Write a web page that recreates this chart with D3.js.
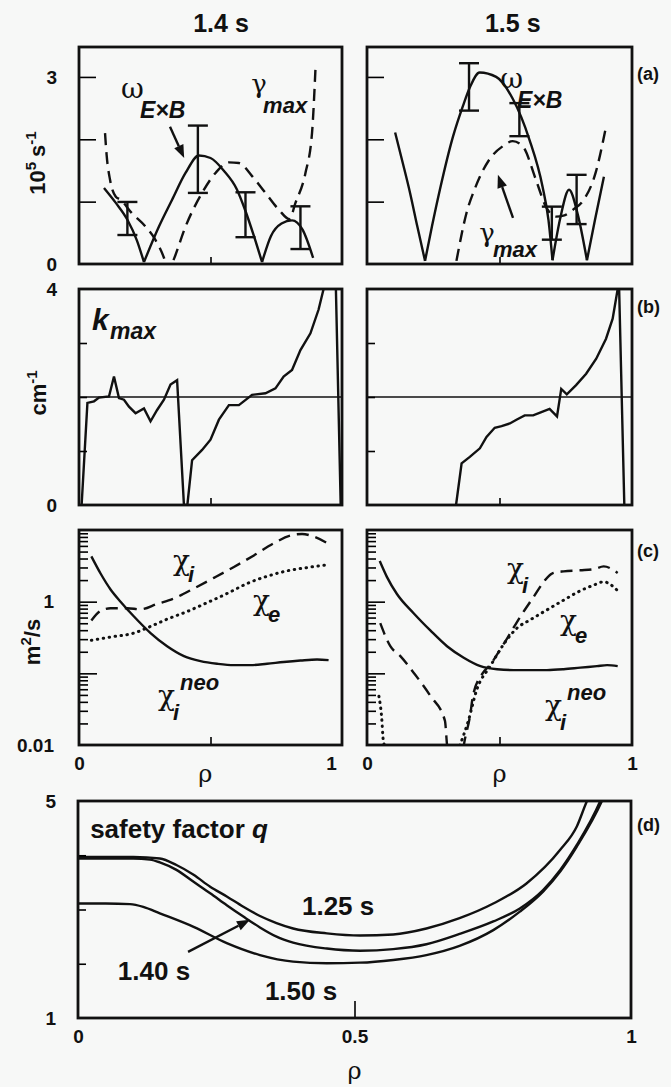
<!DOCTYPE html>
<html>
<head>
<meta charset="utf-8">
<script src="https://cdn.jsdelivr.net/npm/d3@7"></script>
<style>
  body { margin: 0; background: #f7f8f7; }
  text { font-family: "Liberation Sans", Arial, sans-serif; font-weight: bold; fill: #111; }
  .tick text { font-size: 19px; }
  .greek { font-family: "DejaVu Serif", "Liberation Serif", serif; font-weight: normal; }
  .sub { font-style: italic; }
  .solid { fill: none; stroke: #111; stroke-width: 2.4; }
  .dash { fill: none; stroke: #111; stroke-width: 2.4; stroke-dasharray: 12 7; }
  .dot { fill: none; stroke: #111; stroke-width: 3; stroke-dasharray: 0.5 5.5; stroke-linecap: round; }
  .thin { fill: none; stroke: #111; stroke-width: 1.4; }
</style>
</head>
<body>
<div id="viz_container"></div>
<script>
// ---------- (a) shear rate and growth rate, 10^5 s^-1 ----------
const rhoW14 = [0.095, 0.14, 0.184, 0.22, 0.247, 0.304, 0.354, 0.405, 0.456, 0.5, 0.55, 0.6, 0.633, 0.665, 0.696, 0.73, 0.77, 0.81, 0.85, 0.89];
const w14    = [1.22, 0.98, 0.71, 0.38, 0.03, 0.6, 1.03, 1.46, 1.74, 1.70, 1.5, 1.2, 0.85, 0.45, 0.03, 0.45, 0.65, 0.70, 0.55, 0.1];
const rhoG14 = [0.099, 0.105, 0.118, 0.14, 0.158, 0.2, 0.253, 0.29, 0.323, 0.34, 0.36, 0.405, 0.468, 0.519, 0.57, 0.608, 0.658, 0.709, 0.76, 0.80, 0.823, 0.861, 0.886, 0.899];
const g14    = [2.10, 1.75, 1.35, 1.08, 1.03, 0.82, 0.6, 0.39, 0.1, -0.12, 0.07, 0.6, 1.14, 1.46, 1.63, 1.62, 1.41, 1.14, 0.87, 0.72, 0.98, 1.46, 2.10, 3.12];
const rhoErr14 = [0.184, 0.452, 0.633, 0.842];
const lo14     = [0.465, 1.14, 0.43, 0.24];
const hi14     = [0.995, 2.22, 1.15, 0.925];

const rhoW15 = [0.106, 0.135, 0.1625, 0.19, 0.219, 0.245, 0.275, 0.325, 0.3625, 0.39, 0.425, 0.4875, 0.55, 0.6125, 0.6625, 0.685, 0.70, 0.73, 0.7625, 0.795, 0.83, 0.86, 0.894];
const w15    = [2.11, 1.62, 1.14, 0.6, 0.05, 0.6, 1.19, 2.05, 2.54, 2.85, 3.07, 3.0, 2.65, 2.0, 1.24, 0.7, 0.06, 0.75, 1.19, 0.8, 0.06, 0.7, 1.4];
const rhoG15 = [0.3375, 0.375, 0.41, 0.4625, 0.5125, 0.55, 0.5875, 0.6375, 0.675, 0.7125, 0.745, 0.78, 0.8125, 0.8625, 0.9];
const g15    = [0.05, 0.81, 1.24, 1.68, 1.89, 1.97, 1.89, 1.35, 0.92, 0.76, 0.78, 0.88, 1.0, 1.46, 2.16];
const rhoErr15 = [0.385, 0.575, 0.6975, 0.791];
const lo15     = [2.46, 2.05, 0.39, 0.64];
const hi15     = [3.22, 2.58, 0.92, 1.43];

// ---------- (b) k_max, cm^-1 ----------
const rhoK14 = [0.01, 0.032, 0.057, 0.076, 0.114, 0.133, 0.152, 0.171, 0.19, 0.215, 0.247, 0.272, 0.297, 0.323, 0.348, 0.373, 0.399, 0.412, 0.43, 0.468, 0.5, 0.532, 0.57, 0.608, 0.658, 0.709, 0.747, 0.778, 0.81, 0.842, 0.88, 0.911, 0.93, 0.975, 0.995];
const k14    = [0, 1.89, 1.92, 1.99, 2.01, 2.38, 1.98, 1.95, 1.82, 1.70, 1.79, 1.55, 1.76, 1.95, 2.23, 2.31, 0, 0, 0.83, 1.02, 1.21, 1.58, 1.85, 1.85, 2.04, 2.07, 2.16, 2.38, 2.50, 2.87, 3.18, 3.62, 4.0, 4.4, 0];
const rhoK15 = [0.336, 0.357, 0.388, 0.426, 0.451, 0.482, 0.508, 0.539, 0.564, 0.595, 0.627, 0.658, 0.689, 0.717, 0.733, 0.754, 0.789, 0.827, 0.865, 0.902, 0.927, 0.946, 0.95, 0.971];
const k15    = [0, 0.77, 0.89, 1.05, 1.26, 1.43, 1.46, 1.51, 1.58, 1.66, 1.66, 1.72, 1.78, 1.64, 2.15, 2.05, 2.22, 2.43, 2.71, 3.08, 3.45, 4.0, 4.3, 0];
const kRef = 2;

// ---------- (c) diffusivities, m^2/s ----------
const rhoNeo14 = [0.047, 0.082, 0.12, 0.158, 0.209, 0.272, 0.335, 0.399, 0.462, 0.525, 0.589, 0.652, 0.715, 0.778, 0.842, 0.905, 0.949];
const neo14    = [4.28, 2.47, 1.48, 1.0, 0.621, 0.365, 0.239, 0.174, 0.148, 0.136, 0.130, 0.130, 0.136, 0.144, 0.151, 0.156, 0.153];
const rhoChiI14 = [0.047, 0.082, 0.12, 0.184, 0.234, 0.297, 0.361, 0.437, 0.513, 0.589, 0.665, 0.741, 0.804, 0.848, 0.892, 0.949];
const chiI14    = [0.546, 0.743, 0.809, 0.809, 0.783, 0.929, 1.11, 1.53, 2.15, 3.05, 4.42, 6.55, 8.36, 8.81, 8.09, 6.40];
const rhoChiE14 = [0.047, 0.12, 0.209, 0.272, 0.335, 0.411, 0.487, 0.563, 0.639, 0.715, 0.791, 0.867, 0.949];
const chiE14    = [0.289, 0.321, 0.365, 0.451, 0.570, 0.728, 0.968, 1.30, 1.79, 2.26, 2.69, 2.99, 3.28];

const rhoNeo15 = [0.048, 0.075, 0.113, 0.176, 0.239, 0.302, 0.365, 0.428, 0.491, 0.553, 0.616, 0.679, 0.742, 0.805, 0.868, 0.906, 0.946];
const neo15    = [3.69, 2.22, 1.28, 0.690, 0.397, 0.239, 0.165, 0.126, 0.114, 0.111, 0.111, 0.111, 0.114, 0.120, 0.126, 0.130, 0.126];
const rhoChiI15 = [0.05, 0.088, 0.126, 0.176, 0.239, 0.294, 0.302, 0.335, 0.37, 0.389, 0.40, 0.438, 0.465, 0.503, 0.541, 0.579, 0.629, 0.667, 0.698, 0.742, 0.805, 0.855, 0.893, 0.946];
const chiI15    = [0.501, 0.239, 0.174, 0.102, 0.0486, 0.0219, 0.010, 0.0025, 0.0123, 0.0257, 0.049, 0.102, 0.132, 0.215, 0.365, 0.621, 1.17, 1.89, 2.47, 2.65, 2.74, 2.83, 3.11, 2.51];
const rhoChiE15 = [0.045, 0.055, 0.062, 0.2, 0.351, 0.381, 0.415, 0.465, 0.528, 0.566, 0.616, 0.679, 0.742, 0.805, 0.855, 0.893, 0.946];
const chiE15    = [0.0479, 0.0251, 0.0112, 0.001, 0.01, 0.0209, 0.0603, 0.126, 0.295, 0.428, 0.558, 0.767, 1.05, 1.42, 1.70, 1.89, 1.42];

// ---------- (d) safety factor q ----------
const rhoQ125 = [0, 0.05, 0.1, 0.148, 0.178, 0.209, 0.239, 0.269, 0.299, 0.329, 0.359, 0.389, 0.45, 0.51, 0.57, 0.63, 0.69, 0.751, 0.811, 0.872, 0.902, 0.92, 0.94];
const q125    = [3.97, 3.97, 3.97, 3.94, 3.82, 3.64, 3.42, 3.24, 3.05, 2.88, 2.75, 2.65, 2.56, 2.52, 2.54, 2.65, 2.84, 3.11, 3.48, 4.10, 4.53, 4.99, 5.4];
const rhoQ140 = [0, 0.05, 0.1, 0.13, 0.148, 0.178, 0.209, 0.239, 0.269, 0.299, 0.329, 0.359, 0.389, 0.45, 0.51, 0.57, 0.63, 0.69, 0.751, 0.799, 0.841, 0.872, 0.902, 0.944, 0.96];
const q140    = [3.94, 3.94, 3.94, 3.92, 3.87, 3.73, 3.51, 3.30, 3.08, 2.87, 2.67, 2.50, 2.39, 2.28, 2.24, 2.27, 2.36, 2.55, 2.78, 3.02, 3.36, 3.73, 4.19, 4.99, 5.4];
const rhoQ150 = [0, 0.05, 0.094, 0.118, 0.148, 0.209, 0.269, 0.329, 0.389, 0.45, 0.51, 0.57, 0.63, 0.69, 0.751, 0.799, 0.841, 0.872, 0.902, 0.947, 0.96];
const q150    = [3.11, 3.11, 3.10, 3.05, 2.93, 2.68, 2.38, 2.16, 2.04, 2.01, 2.02, 2.07, 2.16, 2.33, 2.62, 2.96, 3.33, 3.70, 4.16, 4.99, 5.3];

// Append the svg object to the body of the page
const svg = d3.select("#viz_container")
  .append("svg")
    .attr("width", 671)
    .attr("height", 1087);

let clipCount = 0;

// One framed panel: x is rho 0..1, y is the scale passed in
function makePanel(xr, yr, y) {
  const x = d3.scaleLinear().domain([0, 1]).range(xr);
  y.range([yr[1], yr[0]]);
  const id = "clip" + (clipCount++);
  svg.append("clipPath").attr("id", id)
    .append("rect")
      .attr("x", xr[0]).attr("y", yr[0])
      .attr("width", xr[1] - xr[0]).attr("height", yr[1] - yr[0]);
  const g = svg.append("g");
  const plot = g.append("g").attr("clip-path", `url(#${id})`);
  return { x, y, g, plot, xr, yr };
}

function frame(p) {
  p.g.append("rect")
    .attr("x", p.xr[0]).attr("y", p.yr[0])
    .attr("width", p.xr[1] - p.xr[0]).attr("height", p.yr[1] - p.yr[0])
    .attr("fill", "none").attr("stroke", "#111").attr("stroke-width", 2.8);
}

// inward ticks on the left, labels only for the values listed
function yAxis(p, ticks, size, labels, pad) {
  return p.g.append("g")
    .attr("transform", `translate(${p.xr[0]},0)`)
    .call(d3.axisLeft(p.y).tickValues(ticks).tickSize(-size).tickPadding(pad)
      .tickFormat(d => labels.includes(d) ? String(d) : ""))
    .call(a => a.select(".domain").remove())
    .call(a => a.selectAll("line").attr("stroke-width", 1.6));
}

function xAxis(p, ticks, size, labels, pad) {
  return p.g.append("g")
    .attr("transform", `translate(0,${p.yr[1]})`)
    .call(d3.axisBottom(p.x).tickValues(ticks).tickSize(-size).tickPadding(pad)
      .tickFormat(d => labels.includes(d) ? String(d) : ""))
    .call(a => a.select(".domain").remove())
    .call(a => a.selectAll("line").attr("stroke-width", 1.6));
}

// split a series at its sharp zero crossings (|omega| cusps)
function pieces(val) {
  const out = [];
  let cur = [0];
  for (let i = 1; i < val.length; i++) {
    cur.push(i);
    const cusp = i < val.length - 1 && val[i] < 0.15 && val[i - 1] > val[i] && val[i + 1] > val[i];
    if (cusp) { out.push(cur); cur = [i]; }
  }
  out.push(cur);
  return out;
}

function curve(p, rho, val, cls, opts = {}) {
  const line = d3.line()
    .x(i => p.x(rho[i]))
    .y(i => p.y(val[i]))
    .curve(opts.curve || d3.curveMonotoneX);
  const parts = opts.cusps ? pieces(val) : [d3.range(rho.length)];
  parts.forEach(idx => p.plot.append("path").attr("class", cls).attr("d", line(idx)));
}

function errorBars(p, rho, lo, hi) {
  rho.forEach((r, i) => {
    const cx = p.x(r);
    p.g.append("line").attr("class", "solid")
      .attr("x1", cx).attr("x2", cx).attr("y1", p.y(lo[i])).attr("y2", p.y(hi[i]));
    [lo[i], hi[i]].forEach(v => p.g.append("line").attr("class", "solid")
      .attr("x1", cx - 10).attr("x2", cx + 10).attr("y1", p.y(v)).attr("y2", p.y(v)));
  });
}

function label(p, r, v, txt, size, cls) {
  return p.g.append("text")
    .attr("x", p.x(r)).attr("y", p.y(v))
    .attr("font-size", size)
    .attr("class", cls || null)
    .text(txt);
}

function arrow(p, r0, v0, r1, v1) {
  const x0 = p.x(r0), y0 = p.y(v0), x1 = p.x(r1), y1 = p.y(v1);
  const a = Math.atan2(y1 - y0, x1 - x0);
  const L = 13, W = 5;
  const bx = x1 - L * Math.cos(a), by = y1 - L * Math.sin(a);
  p.g.append("line").attr("x1", x0).attr("y1", y0).attr("x2", bx).attr("y2", by)
    .attr("stroke", "#111").attr("stroke-width", 2.4);
  p.g.append("path")
    .attr("d", `M${x1},${y1}L${bx - W * Math.sin(a)},${by + W * Math.cos(a)}L${bx + W * Math.sin(a)},${by - W * Math.cos(a)}Z`)
    .attr("fill", "#111");
}

const colL = [79, 342], colR = [367, 632];

// ===== row (a) =====
const a14 = makePanel(colL, [47, 264], d3.scaleLinear().domain([0, 3.48]));
const a15 = makePanel(colR, [47, 264], d3.scaleLinear().domain([0, 3.48]));
[a14, a15].forEach((p, j) => {
  yAxis(p, [1, 2, 3], 17, j === 0 ? [0, 3] : [], 22);
  yAxis(p, [0], 0, j === 0 ? [0] : [], 22);
  xAxis(p, [0.5], 7, [], 0);
});
curve(a14, rhoW14, w14, "solid", { cusps: true });
curve(a14, rhoG14, g14, "dash");
errorBars(a14, rhoErr14, lo14, hi14);
curve(a15, rhoW15, w15, "solid", { cusps: true });
curve(a15, rhoG15, g15, "dash");
errorBars(a15, rhoErr15, lo15, hi15);

label(a14, 0.16, 2.66, "ω", 28, "greek");
label(a14, 0.232, 2.34, "E×B", 23, "sub");
label(a14, 0.655, 2.74, "γ", 26, "greek");
label(a14, 0.70, 2.42, "max", 22, "sub");
arrow(a14, 0.346, 2.2, 0.40, 1.70);
label(a15, 0.503, 2.82, "ω", 28, "greek");
label(a15, 0.566, 2.50, "E×B", 23, "sub");
label(a15, 0.424, 0.35, "γ", 26, "greek");
label(a15, 0.475, 0.11, "max", 22, "sub");
arrow(a15, 0.551, 0.74, 0.494, 1.43);

// ===== row (b) =====
const b14 = makePanel(colL, [289, 505], d3.scaleLinear().domain([0, 4]));
const b15 = makePanel(colR, [289, 505], d3.scaleLinear().domain([0, 4]));
[b14, b15].forEach((p, j) => {
  yAxis(p, [1, 2, 3], 8, [], 22);
  yAxis(p, [0, 4], 0, j === 0 ? [0, 4] : [], 22);
  xAxis(p, [0.5], 7, [], 0);
  p.plot.append("line").attr("class", "thin")
    .attr("x1", p.x(0)).attr("x2", p.x(1)).attr("y1", p.y(kRef)).attr("y2", p.y(kRef));
});
curve(b14, rhoK14, k14, "solid", { curve: d3.curveLinear });
curve(b15, rhoK15, k15, "solid", { curve: d3.curveLinear });
label(b14, 0.049, 3.24, "k", 30, "sub");
label(b14, 0.118, 3.07, "max", 23, "sub");

// ===== row (c) =====
const c14 = makePanel(colL, [530, 745], d3.scaleLog().domain([0.01, 10]));
const c15 = makePanel(colR, [530, 745], d3.scaleLog().domain([0.01, 10]));
const minor = [];
[0.01, 0.1, 1].forEach(dec => d3.range(2, 10).forEach(m => minor.push(+(dec * m).toPrecision(2))));
const rhoAxes = [];
[c14, c15].forEach((p, j) => {
  yAxis(p, minor, 9, [], 25);
  yAxis(p, [0.1, 1], 18, j === 0 ? [1] : [], 25);
  yAxis(p, [0.01], 0, j === 0 ? [0.01] : [], 25);
  xAxis(p, [0.5], 8, [], 0);
  rhoAxes.push(xAxis(p, [0, 1], 0, [0, 1], 12));
});
// the left "1" sits a little inside the frame corner
rhoAxes[0].selectAll(".tick text").filter(v => v === 1).attr("dx", -11);

curve(c14, rhoNeo14, neo14, "solid");
curve(c14, rhoChiI14, chiI14, "dash");
curve(c14, rhoChiE14, chiE14, "dot");
curve(c15, rhoNeo15, neo15, "solid");
curve(c15, rhoChiI15, chiI15, "dash");
curve(c15, rhoChiE15, chiE15, "dot");

[[c14, 0.357, 2.77, 0.414, 1.88, 0.662, 0.77, 0.719, 0.52, 0.384, 0.0585, 0.30, 0.036, 0.357, 0.0224],
 [c15, 0.528, 2.14, 0.585, 1.32, 0.728, 0.40, 0.785, 0.265, 0.755, 0.0425, 0.672, 0.026, 0.728, 0.016]]
  .forEach(([p, r1, v1, r2, v2, r3, v3, r4, v4, r5, v5, r6, v6, r7, v7]) => {
    label(p, r1, v1, "χ", 28, "greek");
    label(p, r2, v2, "i", 22, "sub");
    label(p, r3, v3, "χ", 28, "greek");
    label(p, r4, v4, "e", 22, "sub");
    label(p, r5, v5, "neo", 22, "sub");
    label(p, r6, v6, "χ", 28, "greek");
    label(p, r7, v7, "i", 22, "sub");
  });

// rho labels under row (c)
[c14, c15].forEach((p, j) => {
  p.g.append("text").attr("class", "greek").attr("font-size", 24)
    .attr("text-anchor", "middle")
    .attr("x", p.x(j === 0 ? 0.48 : 0.5)).attr("y", 782).text("ρ");
});

// ===== row (d) =====
const d = makePanel([78, 631], [801, 1018], d3.scaleLinear().domain([1, 5]));
yAxis(d, [2, 3, 4], 8, [], 22);
yAxis(d, [1, 5], 0, [1, 5], 22);
xAxis(d, [0.5], 17, [], 0);
xAxis(d, [0, 0.5, 1], 0, [0, 0.5, 1], 12);
curve(d, rhoQ125, q125, "solid");
curve(d, rhoQ140, q140, "solid");
curve(d, rhoQ150, q150, "solid");
label(d, 0.022, 4.32, "safety factor ", 26).append("tspan").attr("font-style", "italic").text("q");
label(d, 0.405, 2.90, "1.25 s", 26);
label(d, 0.072, 1.70, "1.40 s", 26);
label(d, 0.338, 1.33, "1.50 s", 26);
arrow(d, 0.199, 2.22, 0.311, 2.81);
d.g.append("text").attr("class", "greek").attr("font-size", 24)
  .attr("text-anchor", "middle").attr("x", d.x(0.5)).attr("y", 1079).text("ρ");

// frames on top
[a14, a15, b14, b15, c14, c15, d].forEach(frame);

// ===== titles, axis titles and panel tags =====
svg.append("text").attr("x", a14.x(0.54)).attr("y", 32).attr("font-size", 25)
  .attr("text-anchor", "middle").text("1.4 s");
svg.append("text").attr("x", a15.x(0.55)).attr("y", 32).attr("font-size", 25)
  .attr("text-anchor", "middle").text("1.5 s");

function yTitle(cx, cy, parts) {
  const t = svg.append("text").attr("font-size", 22).attr("text-anchor", "middle")
    .attr("transform", `translate(${cx},${cy}) rotate(-90)`);
  parts.forEach(([s, shift, dx]) => {
    const ts = t.append("tspan").text(s);
    if (shift) ts.attr("dy", shift);
    if (shift < 0) ts.attr("font-size", 15);
    if (dx) ts.attr("dx", dx);
  });
  return t;
}
yTitle(45, 163, [["10"], ["5", -9], ["s", 9, 5], ["-1", -9]]);
yTitle(46, 393, [["cm"], ["-1", -9]]);
yTitle(40, 642, [["m"], ["2", -9], ["/s", 9]]);

[["(a)", 80], ["(b)", 313], ["(c)", 557], ["(d)", 831]].forEach(([t, y]) => {
  svg.append("text").attr("x", 637).attr("y", y).attr("font-size", 18).text(t);
});
</script>
</body>
</html>
